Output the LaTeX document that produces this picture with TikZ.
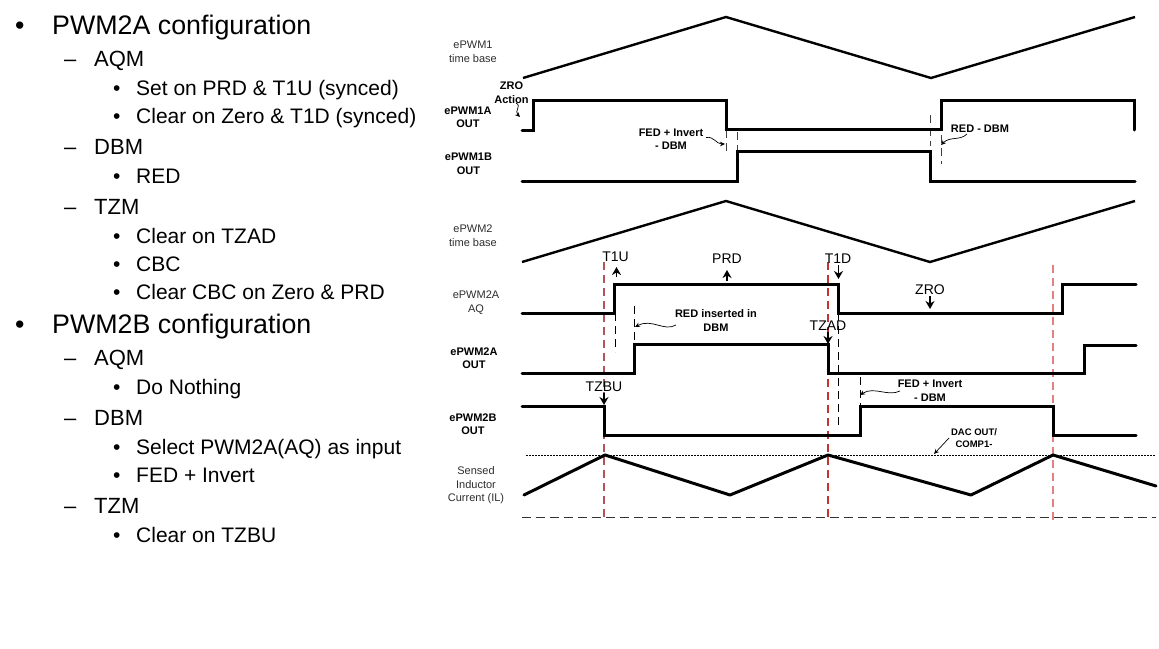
\documentclass[tikz,border=0pt]{standalone}
\usepackage{fontspec}
\setmainfont{Liberation Sans}
\usetikzlibrary{arrows.meta}
\definecolor{redA}{RGB}{178,84,92}
\definecolor{redB}{RGB}{196,50,50}
\definecolor{redC}{RGB}{228,128,128}
\definecolor{lab}{RGB}{45,45,45}
\tikzset{
  x=1pt,y=-1pt,
  trace/.style={line width=3pt,line join=miter,line cap=round,black},
  ramp/.style={line width=2.4pt,line join=miter,black},
  guide/.style={line width=1pt,black!75,dash pattern=on 8pt off 5pt},
  reddash/.style={line width=1.3pt,dash pattern=on 8pt off 5pt},
  lvla/.style={anchor=base west,inner sep=0pt,font=\fontsize{26.8}{26.8}\selectfont},
  lvlb/.style={anchor=base west,inner sep=0pt,font=\fontsize{22}{22}\selectfont},
  lvlc/.style={anchor=base west,inner sep=0pt,font=\fontsize{21}{21}\selectfont},
  thin label/.style={align=center,inner sep=0pt,text=lab,font=\fontsize{11}{13.5}\selectfont},
  bold label/.style={align=center,inner sep=0pt,font=\fontsize{11}{13.5}\selectfont\bfseries},
  event/.style={inner sep=0pt,font=\fontsize{14}{14}\selectfont},
  evarrow/.style={line width=1.8pt,-{Stealth[length=8pt,width=9pt]}},
  note/.style={line width=.7pt,-{Stealth[length=5pt,width=4.5pt]}},
}
\begin{document}
\begin{tikzpicture}
\useasboundingbox (0,0) rectangle (1159,648);
% ---- left list
\node[lvla] (b1) at (15,34) {•};
\node[lvla] (t1) at (52,34) {PWM2A configuration};
\node[lvlb] (d1) at (64,66) {–};
\node[lvlb] (t2) at (94,66) {AQM};
\node[lvlc] (b2) at (113,95) {•};
\node[lvlc] (t3) at (136,95) {Set on PRD \& T1U (synced)};
\node[lvlc] (b3) at (113,123) {•};
\node[lvlc] (t4) at (136,123) {Clear on Zero \& T1D (synced)};
\node[lvlb] (d2) at (64,154) {–};
\node[lvlb] (t5) at (94,154) {DBM};
\node[lvlc] (b4) at (113,183) {•};
\node[lvlc] (t6) at (136,183) {RED};
\node[lvlb] (d3) at (64,214) {–};
\node[lvlb] (t7) at (94,214) {TZM};
\node[lvlc] (b5) at (113,243) {•};
\node[lvlc] (t8) at (136,243) {Clear on TZAD};
\node[lvlc] (b6) at (113,271) {•};
\node[lvlc] (t9) at (136,271) {CBC};
\node[lvlc] (b7) at (113,299) {•};
\node[lvlc] (t10) at (136,299) {Clear CBC on Zero \& PRD};
\node[lvla] (b8) at (15,333) {•};
\node[lvla] (t11) at (52,333) {PWM2B configuration};
\node[lvlb] (d4) at (64,365) {–};
\node[lvlb] (t12) at (94,365) {AQM};
\node[lvlc] (b9) at (113,394) {•};
\node[lvlc] (t13) at (136,394) {Do Nothing};
\node[lvlb] (d5) at (64,425) {–};
\node[lvlb] (t14) at (94,425) {DBM};
\node[lvlc] (b10) at (113,454) {•};
\node[lvlc] (t15) at (136,454) {Select PWM2A(AQ) as input};
\node[lvlc] (b11) at (113,482) {•};
\node[lvlc] (t16) at (136,482) {FED + Invert};
\node[lvlb] (d6) at (64,513) {–};
\node[lvlb] (t17) at (94,513) {TZM};
\node[lvlc] (b12) at (113,542) {•};
\node[lvlc] (t18) at (136,542) {Clear on TZBU};
% ---- red guides
\draw[reddash,redA] (604,262) -- (604,521);
\draw[reddash,redB] (828,262) -- (828,521);
\draw[reddash,redC] (1053,265) -- (1053,524);
% ---- reference levels
\draw[line width=.9pt,dash pattern=on 1.5pt off 1.5pt] (526,455.5) -- (1155,455.5);
\draw[line width=1pt,black!80,dash pattern=on 9pt off 5pt] (522,517) -- (1156,517);
% ---- black guides
\draw[guide] (726,130) -- (726,155);
\draw[guide] (737,132) -- (737,151);
\draw[guide] (930,115) -- (930,146);
\draw[guide] (941,135) -- (941,164);
\draw[guide,black] (615,313) -- (615,352);
\draw[guide,black] (634,306) -- (634,345);
\draw[guide,black] (838.5,313) -- (838.5,426);
\draw[guide,black] (860,377) -- (860,406);
% ---- traces
\draw[ramp] (523,78) -- (726,17) -- (931,78) -- (1135,17);
\draw[trace] (522,130) -- (533,130) -- (533,100) -- (726,100) -- (726,129) -- (941,129) -- (941,100) -- (1134,100) -- (1134,130);
\draw[trace] (522,181) -- (737,181) -- (737,151) -- (930,151) -- (930,181) -- (1135,181);
\draw[ramp] (522,262) -- (726,201) -- (930,262) -- (1135,201);
\draw[trace] (522,313) -- (614,313) -- (614,284) -- (838,284) -- (838,313) -- (1062,313) -- (1062,284) -- (1136,284);
\draw[trace] (522,373) -- (634,373) -- (634,344.5) -- (828,344.5) -- (828,373) -- (1084,373) -- (1084,345) -- (1136,345);
\draw[trace] (522,406) -- (604,406) -- (604,435) -- (860,435) -- (860,406.5) -- (1053,406.5) -- (1053,435.5) -- (1136,435.5);
\draw[trace,line join=round] (524,495) -- (605,455) -- (730,495) -- (828,455) -- (971,495) -- (1053,455) -- (1156,486);
% ---- event arrows
\draw[evarrow] (616.5,277) -- (616.5,267);
\draw[evarrow] (727,281) -- (727,270);
\draw[evarrow] (838.5,265) -- (838.5,279);
\draw[evarrow] (930,296) -- (930,309);
\draw[evarrow] (828,332) -- (828,344);
\draw[evarrow] (604,393) -- (604,405);
\node[event] (e1) at (615.5,257) {T1U};
\node[event] (e2) at (727,259) {PRD};
\node[event] (e3) at (838,259) {T1D};
\node[event] (e4) at (930,290) {ZRO};
\node[event] (e5) at (828,326) {TZAD};
\node[event] (e6) at (604,387) {TZBU};
% ---- row labels
\node[thin label] (l1) at (473,52) {ePWM1\\time base};
\node[bold label] (l2) at (468,117.5) {ePWM1A\\OUT};
\node[bold label] (l3) at (468.5,164) {ePWM1B\\OUT};
\node[thin label] (l4) at (473,235.5) {ePWM2\\time base};
\node[thin label] (l5) at (476,302.5) {ePWM2A\\AQ};
\node[bold label] (l6) at (474,358) {ePWM2A\\OUT};
\node[bold label] (l7) at (473,424) {ePWM2B\\OUT};
\node[thin label] (l8) at (476,485.5) {Sensed\\Inductor\\Current (IL)};
% ---- notes
\node[bold label] (n1) at (511.5,92.5) {ZRO\\Action};
\node[bold label] (n2) at (671,139) {FED + Invert\\- DBM};
\node[bold label] (n3) at (980,129) {RED - DBM};
\node[bold label] (n4) at (716,320.5) {RED inserted in\\DBM};
\node[bold label] (n5) at (930,390.5) {FED + Invert\\- DBM};
\node[bold label,font=\fontsize{9.5}{12}\selectfont\bfseries] (n6) at (974,438) {DAC OUT/\\COMP1-};
\draw[note] (516,103) .. controls (522,106) and (514,111) .. (520,117);
\draw[note] (706,137.5) .. controls (714,136) and (716,144) .. (725,144);
\draw[note] (967,134) .. controls (960,141) and (950,136) .. (941,145);
\draw[note] (676,325) .. controls (664,332) and (652,318) .. (635,327);
\draw[note] (900,391) .. controls (888,397) and (874,386) .. (860,395);
\draw[note] (949,438) -- (934,454);
\end{tikzpicture}
\end{document}
